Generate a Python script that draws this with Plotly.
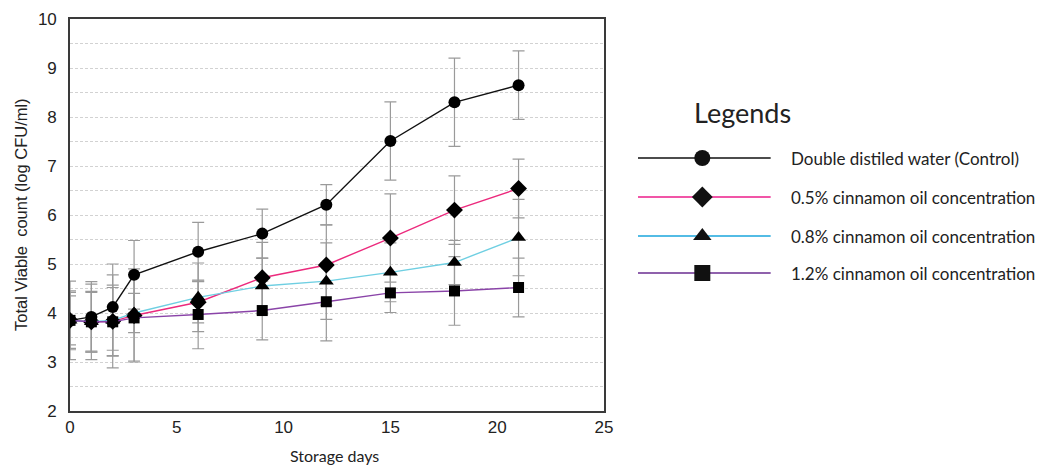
import plotly.graph_objects as go

days = [0, 1, 2, 3, 6, 9, 12, 15, 18, 21]
series_names = ["Double distiled water (Control)", "0.5% cinnamon oil concentration",
                "0.8% cinnamon oil concentration", "1.2% cinnamon oil concentration"]
control = [3.85, 3.92, 4.12, 4.78, 5.25, 5.62, 6.21, 7.51, 8.30, 8.65]
conc_05 = [3.85, 3.82, 3.83, 3.95, 4.22, 4.72, 4.98, 5.53, 6.10, 6.54]
conc_08 = [3.85, 3.82, 3.85, 4.00, 4.32, 4.55, 4.65, 4.83, 5.03, 5.54]
conc_12 = [3.85, 3.82, 3.82, 3.90, 3.97, 4.05, 4.23, 4.41, 4.45, 4.52]
err_control = [0.80, 0.72, 0.88, 0.70, 0.60, 0.50, 0.41, 0.80, 0.90, 0.70]
err_05 = [0.57, 0.62, 0.95, 0.95, 0.42, 0.72, 0.82, 0.90, 0.70, 0.60]
err_08 = [0.50, 0.60, 0.72, 0.40, 0.70, 0.57, 0.78, 0.60, 0.45, 0.78]
err_12 = [0.60, 0.77, 0.70, 0.88, 0.70, 0.60, 0.80, 0.40, 0.70, 0.60]

x_title = "Storage days"
y_title = "Total Viable  count (log CFU/ml)"
legend_title = "Legends"

values = [control, conc_05, conc_08, conc_12]
errors = [err_control, err_05, err_08, err_12]
colors = ["#111111", "#ec2a7d", "#6fcfe2", "#8a44a8"]
legend_colors = ["#111111", "#ec1c8a", "#1aa6dc", "#6a2c91"]
symbols = ["circle", "diamond", "triangle-up", "square"]
msizes = [12, 13, 13, 11]
legend_y = [139, 178, 217, 254]

fig = go.Figure()

# error bars first (behind)
for v, e in zip(values, errors):
    fig.add_trace(go.Scatter(
        x=days, y=v, mode="markers", marker=dict(size=1, opacity=0),
        error_y=dict(type="data", array=e, visible=True, color="#9a9a9a", thickness=1.2, width=6),
        showlegend=False, hoverinfo="skip"))

for v, c, s, ms, n in zip(values, colors, symbols, msizes, series_names):
    fig.add_trace(go.Scatter(
        x=days, y=v, mode="lines+markers", name=n,
        line=dict(color=c, width=1.4),
        marker=dict(symbol=s, size=ms, color="black"),
        showlegend=False))

# custom legend drawn on a second, hidden axis pair
for n, c, s, ly in zip(series_names, legend_colors, symbols, legend_y):
    fig.add_trace(go.Scatter(
        x=[0, 132], y=[ly, ly], mode="lines", line=dict(color=c, width=1.6),
        xaxis="x2", yaxis="y2", showlegend=False, hoverinfo="skip"))
    fig.add_trace(go.Scatter(
        x=[64], y=[ly], mode="markers", marker=dict(symbol=s, size=16, color="#111111"),
        xaxis="x2", yaxis="y2", showlegend=False, hoverinfo="skip"))
    fig.add_annotation(x=150, y=ly, xref="x2", yref="y2", text=n, showarrow=False,
                       xanchor="left", yanchor="middle",
                       font=dict(family="Lato", size=17, color="#222222"))

fig.add_annotation(x=104, y=93, xref="x2", yref="y2", text=legend_title, showarrow=False,
                   xanchor="center", yanchor="middle",
                   font=dict(family="Lato", size=27, color="#222222"))

W, H = 1037, 467
ml, mt = 70, 19
plot_right, plot_bottom = 604, 411
mr = 3
mb = H - plot_bottom
pw = W - ml - mr
ph = H - mt - mb
main_right = (plot_right - ml) / pw
leg_left = (638 - ml) / pw

# axis titles as annotations in paper coordinates
fig.add_annotation(x=(334 - ml) / pw, y=-(455 - plot_bottom) / ph,
                   xref="paper", yref="paper",
                   text=x_title, showarrow=False, xanchor="center", yanchor="middle",
                   font=dict(family="Lato", size=16, color="#222222"))
fig.add_annotation(x=(21 - ml) / pw, y=(plot_bottom - 215) / ph,
                   xref="paper", yref="paper",
                   text=y_title.replace("  ", " \u00a0"), showarrow=False, textangle=-90,
                   xanchor="center", yanchor="middle",
                   font=dict(family="Liberation Sans", size=16.5, color="#222222"))

grid_style = dict(gridcolor="#d2d2d2", griddash="3px,2px", gridwidth=1)

fig.update_layout(
    width=W, height=H,
    margin=dict(l=ml, r=mr, t=mt, b=mb, autoexpand=False),
    paper_bgcolor="white", plot_bgcolor="white",
    showlegend=False,
    xaxis=dict(domain=[0, main_right], range=[0, 25], dtick=5, showgrid=False, zeroline=False,
               showline=True, linecolor="#3a3a3a", linewidth=1.6, mirror=True, ticks="",
               automargin=False,
               tickfont=dict(family="Liberation Sans", size=17, color="#222222")),
    yaxis=dict(range=[2, 10], dtick=1, zeroline=False, automargin=False,
               showgrid=True, **grid_style,
               minor=dict(dtick=0.5, showgrid=True, **grid_style),
               showline=True, linecolor="#3a3a3a", linewidth=1.6, mirror=True, ticks="",
               ticklabelstandoff=8,
               tickfont=dict(family="Liberation Sans", size=17, color="#222222")),
    xaxis2=dict(domain=[leg_left, 1], range=[0, 394], visible=False, anchor="y2"),
    yaxis2=dict(domain=[0, 1], range=[392, 0], visible=False, anchor="x2"),
)

fig.write_html("out.html", config={"displayModeBar": False},
               post_script="document.body.style.margin='0px';document.body.style.overflow='hidden';")
